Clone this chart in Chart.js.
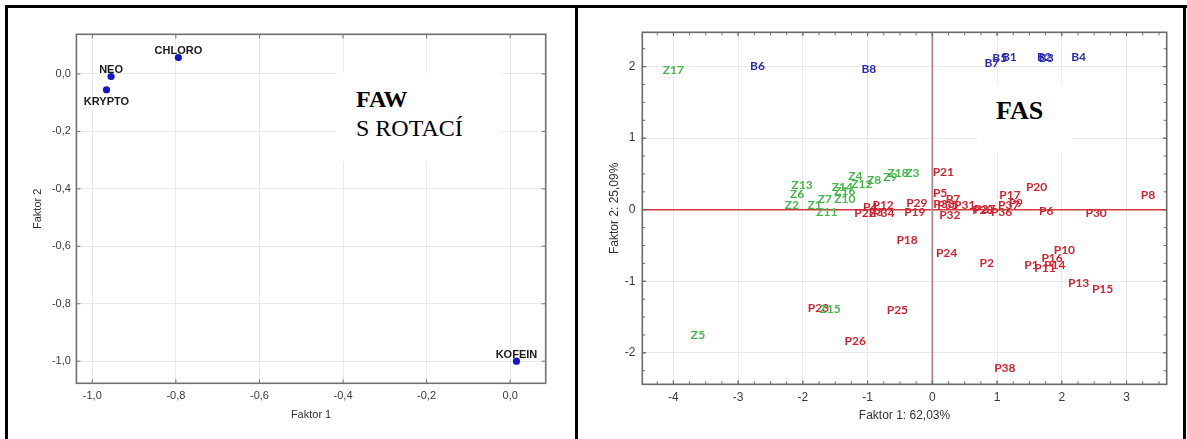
<!DOCTYPE html>
<html><head><meta charset="utf-8">
<script src="https://cdn.jsdelivr.net/npm/chart.js@4.4.1/dist/chart.umd.min.js"></script>
<style>
html,body{margin:0;padding:0;background:#fff;}
body{width:1187px;height:439px;overflow:hidden;position:relative;}
.line{position:absolute;background:#000;}
canvas{position:absolute;}
.note{position:absolute;background:#fff;}
.txt{position:absolute;font-family:"Liberation Serif","Times New Roman",serif;color:#000;white-space:nowrap;}
</style></head>
<body>
<canvas id="c1" width="567" height="431" style="left:8px;top:8px;width:567px;height:431px"></canvas>
<canvas id="c2" width="605" height="431" style="left:578px;top:8px;width:605px;height:431px"></canvas>
<div class="note" style="left:335px;top:73px;width:166px;height:89px"></div>
<div class="txt" style="left:356px;top:85px;font-size:24px;line-height:29px"><b>FAW</b><br>S ROTACÍ</div>
<div class="note" style="left:977px;top:83px;width:95px;height:69px"></div>
<div class="txt" style="left:996px;top:96px;font-size:26px;line-height:30px;font-weight:bold">FAS</div>
<div class="line" style="left:5px;top:5px;width:1182px;height:3px"></div>
<div class="line" style="left:5px;top:5px;width:3px;height:434px"></div>
<div class="line" style="left:575px;top:5px;width:3px;height:434px"></div>
<div class="line" style="left:1183px;top:5px;width:3px;height:434px"></div>
<script>
// ---------- DATA: left panel (FAW s rotací) ----------
const leftNames = ['CHLORO', 'NEO', 'KRYPTO', 'KOFEIN'];
const leftF1 = [-0.794, -0.955, -0.966, 0.015];
const leftF2 = [0.057, -0.009, -0.055, -1.0];
const leftLabelSide = ['above', 'above', 'below', 'above'];
const leftXTicks = [-1.0, -0.8, -0.6, -0.4, -0.2, 0.0];
const leftYTicks = [0.0, -0.2, -0.4, -0.6, -0.8, -1.0];
const leftXRange = [-1.038, 0.085];
const leftYRange = [-1.077, 0.138];

// ---------- DATA: right panel (FAS) ----------
const pNames = ['P1','P2','P3','P4','P5','P6','P7','P8','P9','P10','P11','P12','P13','P14','P15','P16','P17','P18','P19','P20','P21','P22','P23','P24','P25','P26','P27','P28','P29','P30','P31','P32','P33','P34','P35','P36','P37','P38'];
const pF1 = [1.53,0.84,-0.87,-0.96,0.12,1.76,0.32,3.33,1.29,2.04,1.74,-0.76,2.26,1.89,2.63,1.85,1.20,-0.39,-0.27,1.61,0.17,-1.04,-1.76,0.22,-0.54,-1.19,0.81,0.78,-0.24,2.53,0.50,0.27,0.18,-0.75,0.24,1.07,1.18,1.12];
const pF2 = [-0.77,-0.75,-0.03,0.03,0.23,-0.02,0.15,0.20,0.09,-0.56,-0.81,0.07,-1.02,-0.78,-1.11,-0.67,0.20,-0.43,-0.04,0.32,0.52,-0.05,-1.38,-0.60,-1.40,-1.84,0.01,-0.01,0.09,-0.05,0.06,-0.08,0.08,-0.05,0.06,-0.04,0.07,-2.22];
const zNames = ['Z1','Z2','Z3','Z4','Z5','Z6','Z7','Z8','Z9','Z10','Z11','Z12','Z13','Z14','Z15','Z16','Z17','Z18'];
const zF1 = [-1.82,-2.17,-0.31,-1.19,-3.62,-2.09,-1.66,-0.90,-0.65,-1.35,-1.63,-1.09,-2.01,-1.39,-1.58,-1.35,-4.00,-0.53];
const zF2 = [0.07,0.06,0.51,0.47,-1.75,0.22,0.15,0.41,0.46,0.15,-0.04,0.36,0.35,0.31,-1.39,0.26,1.95,0.51];
const bNames = ['B1','B2','B3','B4','B5','B6','B7','B8'];
const bF1 = [1.19,1.73,1.76,2.26,1.04,-2.70,0.92,-0.98];
const bF2 = [2.13,2.13,2.12,2.13,2.12,2.01,2.05,1.96];
const rightXTicks = [-4, -3, -2, -1, 0, 1, 2, 3];
const rightYTicks = [-2, -1, 0, 1, 2];
const rightXRange = [-4.48, 3.62];
const rightYRange = [-2.44, 2.48];
const refLineValue = 0;

// ---------- helpers ----------
const pts = (xs, ys) => xs.map((v, i) => ({x: v, y: ys[i]}));
const fmtComma = v => Number(v).toFixed(1).replace('.', ',');

const framePlugin = {
  id: 'frame',
  beforeDatasetsDraw(chart, args, o) {
    const {ctx, chartArea: a, scales: {x, y}} = chart;
    ctx.save();
    if (o.ref) {
      const px = x.getPixelForValue(refLineValue);
      const py = y.getPixelForValue(refLineValue);
      ctx.lineWidth = 1.3; ctx.strokeStyle = '#d03a3a';
      ctx.beginPath(); ctx.moveTo(a.left, py); ctx.lineTo(a.right, py); ctx.stroke();
      ctx.lineWidth = 1.8; ctx.strokeStyle = '#b48585';
      ctx.beginPath(); ctx.moveTo(px, a.top); ctx.lineTo(px, a.bottom); ctx.stroke();
    }
    ctx.strokeStyle = o.color; ctx.lineWidth = o.width;
    ctx.strokeRect(a.left, a.top, a.right - a.left, a.bottom - a.top);
    const tickX = (v, len) => {
      const p = x.getPixelForValue(v);
      ctx.beginPath(); ctx.moveTo(p, a.top); ctx.lineTo(p, a.top + len);
      ctx.moveTo(p, a.bottom); ctx.lineTo(p, a.bottom - len); ctx.stroke();
    };
    const tickY = (v, len) => {
      const p = y.getPixelForValue(v);
      ctx.beginPath(); ctx.moveTo(a.left, p); ctx.lineTo(a.left + len, p);
      ctx.moveTo(a.right, p); ctx.lineTo(a.right - len, p); ctx.stroke();
    };
    ctx.lineWidth = 1;
    if (o.minor) {
      for (let v = Math.ceil(x.min / o.minor) * o.minor; v <= x.max; v += o.minor) tickX(v, 3);
      for (let v = Math.ceil(y.min / o.minor) * o.minor; v <= y.max; v += o.minor) tickY(v, 3);
    }
    x.ticks.forEach(t => tickX(t.value, 4));
    y.ticks.forEach(t => tickY(t.value, 4));
    ctx.restore();
  },
  afterDatasetsDraw(chart) {
    const ctx = chart.ctx;
    chart.data.datasets.forEach((ds, di) => {
      if (!ds.names) return;
      const meta = chart.getDatasetMeta(di);
      ctx.save();
      ctx.font = ds.labelFont;
      ctx.fillStyle = ds.labelColor;
      ctx.textAlign = 'center';
      meta.data.forEach((el, i) => {
        if (ds.sides) {
          ctx.textBaseline = 'alphabetic';
          const dy = ds.sides[i] === 'above' ? -3.5 : 15;
          ctx.fillText(ds.names[i], el.x, el.y + dy);
        } else {
          ctx.textBaseline = 'middle';
          ctx.fillText(ds.names[i], el.x, el.y);
        }
      });
      ctx.restore();
    });
  }
};

Chart.defaults.font.family = '"Liberation Sans", Arial, sans-serif';
Chart.defaults.color = '#3a3a3a';

function axis(range, ticks, fmt, fit, size, pad, title, titlePad) {
  return {
    type: 'linear', min: range[0], max: range[1],
    afterBuildTicks: s => { s.ticks = ticks.map(v => ({value: v})); },
    afterFit: fit,
    ticks: {callback: fmt, color: '#3a3a3a', font: {size: size}, padding: pad, autoSkip: false, maxRotation: 0},
    grid: {color: '#e9e9e9', drawTicks: false, lineWidth: 1},
    border: {display: false},
    title: {display: true, text: title, color: '#333', font: {size: size}, padding: titlePad}
  };
}

// ---------- left chart ----------
new Chart(document.getElementById('c1'), {
  type: 'scatter',
  data: {datasets: [{
    data: pts(leftF1, leftF2), names: leftNames, sides: leftLabelSide,
    labelFont: 'bold 11px "Liberation Sans", Arial, sans-serif', labelColor: '#1a1a1a',
    pointRadius: 3.6, pointBackgroundColor: '#1414c8', pointBorderWidth: 0
  }]},
  options: {
    responsive: false, animation: false, devicePixelRatio: 1,
    layout: {padding: {top: 26.3, right: 29.3, left: 0, bottom: 0}},
    plugins: {legend: {display: false}, tooltip: {enabled: false}, frame: {color: '#707070', width: 1.6}},
    scales: {
      x: axis(leftXRange, leftXTicks, fmtComma, s => { s.height = 431 - 375.3; }, 11, 6.5, 'Faktor 1', {top: 0, bottom: 17.4}),
      y: axis(leftYRange, leftYTicks, fmtComma, s => { s.width = 68.4; }, 11, 5.5, 'Faktor 2', {top: 23, bottom: 0})
    }
  },
  plugins: [framePlugin]
});

// ---------- right chart ----------
const lblFont = 'bold 12px Lato, "Open Sans", sans-serif';
new Chart(document.getElementById('c2'), {
  type: 'scatter',
  data: {datasets: [
    {data: pts(pF1, pF2), names: pNames, labelFont: lblFont, labelColor: '#d3222d', pointRadius: 0},
    {data: pts(zF1, zF2), names: zNames, labelFont: lblFont, labelColor: '#46b64a', pointRadius: 0},
    {data: pts(bF1, bF2), names: bNames, labelFont: lblFont, labelColor: '#2a2ab6', pointRadius: 0}
  ]},
  options: {
    responsive: false, animation: false, devicePixelRatio: 1,
    layout: {padding: {top: 24.3, right: 16.3, left: 0, bottom: 0}},
    plugins: {legend: {display: false}, tooltip: {enabled: false}, frame: {color: '#6a6a6a', width: 1.6, minor: 0.25, ref: true}},
    scales: {
      x: axis(rightXRange, rightXTicks, v => String(v), s => { s.height = 431 - 376.3; }, 12, 6, 'Faktor 1: 62,03%', {top: 0, bottom: 15.8}),
      y: axis(rightYRange, rightYTicks, v => String(v), s => { s.width = 64.3; }, 12, 7, 'Faktor 2: 25,09%', {top: 29.8, bottom: 0})
    }
  },
  plugins: [framePlugin]
});
</script>
</body></html>
